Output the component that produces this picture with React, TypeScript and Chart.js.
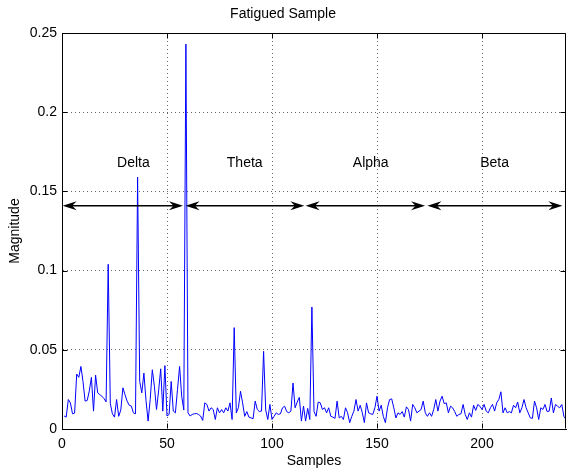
import { useEffect, useRef } from 'react';
import { Chart, registerables } from 'chart.js';

Chart.register(...registerables);

const FONT = "'Liberation Sans', Arial, Helvetica, sans-serif";

const magnitude: number[] = [
  0.0082, 0.0075, 0.0186, 0.0165, 0.0096, 0.0100, 0.0347, 0.0326, 0.0395, 0.0300,
  0.0176, 0.0180, 0.0240, 0.0326, 0.0113, 0.0340, 0.0228, 0.0217, 0.0207, 0.0192,
  0.0171, 0.1040, 0.0160, 0.0096, 0.0075, 0.0186, 0.0080, 0.0120, 0.0260, 0.0217,
  0.0176, 0.0150, 0.0145, 0.0102, 0.0096, 0.1590, 0.0300, 0.0228, 0.0353, 0.0180,
  0.0050, 0.0186, 0.0374, 0.0270, 0.0123, 0.0240, 0.0380, 0.0113, 0.0400, 0.0082,
  0.0092, 0.0300, 0.0113, 0.0102, 0.0250, 0.0395, 0.0207, 0.0120, 0.2430, 0.0102,
  0.0082, 0.0092, 0.0096, 0.0098, 0.0092, 0.0082, 0.0054, 0.0165, 0.0155, 0.0113,
  0.0134, 0.0123, 0.0060, 0.0134, 0.0102, 0.0123, 0.0102, 0.0134, 0.0113, 0.0165,
  0.0060, 0.0640, 0.0102, 0.0134, 0.0238, 0.0165, 0.0080, 0.0110, 0.0075, 0.0070,
  0.0065, 0.0176, 0.0123, 0.0110, 0.0113, 0.0490, 0.0120, 0.0060, 0.0155, 0.0060,
  0.0080, 0.0102, 0.0092, 0.0096, 0.0134, 0.0144, 0.0110, 0.0102, 0.0113, 0.0290,
  0.0134, 0.0170, 0.0200, 0.0050, 0.0144, 0.0050, 0.0130, 0.0060, 0.0770, 0.0110,
  0.0080, 0.0170, 0.0165, 0.0123, 0.0134, 0.0102, 0.0134, 0.0080, 0.0075, 0.0067,
  0.0176, 0.0070, 0.0080, 0.0060, 0.0134, 0.0102, 0.0040, 0.0080, 0.0113, 0.0186,
  0.0113, 0.0150, 0.0102, 0.0040, 0.0165, 0.0102, 0.0096, 0.0092, 0.0134, 0.0207,
  0.0113, 0.0150, 0.0080, 0.0040, 0.0134, 0.0186, 0.0190, 0.0134, 0.0070, 0.0102,
  0.0092, 0.0110, 0.0075, 0.0140, 0.0123, 0.0050, 0.0155, 0.0134, 0.0102, 0.0113,
  0.0123, 0.0176, 0.0102, 0.0080, 0.0102, 0.0080, 0.0123, 0.0186, 0.0113, 0.0176,
  0.0207, 0.0160, 0.0165, 0.0102, 0.0144, 0.0134, 0.0110, 0.0080, 0.0092, 0.0096,
  0.0155, 0.0092, 0.0060, 0.0102, 0.0075, 0.0150, 0.0117, 0.0155, 0.0144, 0.0123,
  0.0155, 0.0113, 0.0102, 0.0134, 0.0155, 0.0113, 0.0165, 0.0186, 0.0235, 0.0102,
  0.0134, 0.0102, 0.0110, 0.0102, 0.0150, 0.0134, 0.0170, 0.0102, 0.0134, 0.0186,
  0.0134, 0.0102, 0.0070, 0.0067, 0.0176, 0.0134, 0.0060, 0.0134, 0.0123, 0.0155,
  0.0110, 0.0113, 0.0196, 0.0102, 0.0155, 0.0144, 0.0134, 0.0155, 0.0080, 0.0060,
];
const sampleIndex: number[] = magnitude.map((_, i) => i + 1);

const yTickLabels = ['0', '0.05', '0.1', '0.15', '0.2', '0.25'];

const bandNames = ['Delta', 'Theta', 'Alpha', 'Beta'];
const bandStart = [0.3, 58.8, 116, 174];
const bandEnd = [57.6, 115.4, 172.9, 238.3];
const bandLabelX = [34, 87, 147, 206];
const arrowLevel = 0.141;
const labelLevel = 0.168;

function arrowHead(ctx: CanvasRenderingContext2D, tipX: number, yy: number, dir: number) {
  const L = 14;
  const W = 4.5;
  const notch = 9.5;
  ctx.beginPath();
  ctx.moveTo(tipX, yy);
  ctx.lineTo(tipX + dir * L, yy - W);
  ctx.lineTo(tipX + dir * notch, yy);
  ctx.lineTo(tipX + dir * L, yy + W);
  ctx.closePath();
  ctx.fill();
}

const framePlugin = {
  id: 'frame',
  afterDatasetsDraw(chart: any) {
    const { ctx, chartArea: a, scales } = chart;
    const x = scales.x;
    const y = scales.y;
    const L = Math.round(a.left) + 0.5;
    const R = Math.round(a.right) - 0.5;
    const T = Math.round(a.top) + 0.5;
    const B = Math.round(a.bottom) - 0.5;
    ctx.save();
    ctx.strokeStyle = '#000';
    ctx.lineWidth = 1;
    ctx.beginPath();
    ctx.moveTo(L, T);
    ctx.lineTo(R, T);
    ctx.lineTo(R, B);
    ctx.stroke();
    const tl = 5;
    ctx.beginPath();
    x.ticks.forEach((t: any) => {
      const px = Math.round(x.getPixelForValue(t.value)) + 0.5;
      ctx.moveTo(px, B);
      ctx.lineTo(px, B - tl);
      ctx.moveTo(px, T);
      ctx.lineTo(px, T + tl);
    });
    y.ticks.forEach((t: any) => {
      const py = Math.round(y.getPixelForValue(t.value)) + 0.5;
      ctx.moveTo(L, py);
      ctx.lineTo(L + tl, py);
      ctx.moveTo(R, py);
      ctx.lineTo(R - tl, py);
    });
    ctx.stroke();
    ctx.restore();
  },
};

const bandPlugin = {
  id: 'bands',
  afterDatasetsDraw(chart: any) {
    const { ctx, scales } = chart;
    const x = scales.x;
    const y = scales.y;
    const yy = y.getPixelForValue(arrowLevel);
    const ly = y.getPixelForValue(labelLevel);
    ctx.save();
    ctx.strokeStyle = '#000';
    ctx.fillStyle = '#000';
    ctx.lineWidth = 1.5;
    bandNames.forEach((name, i) => {
      const x1 = x.getPixelForValue(bandStart[i]);
      const x2 = x.getPixelForValue(bandEnd[i]);
      ctx.beginPath();
      ctx.moveTo(x1 + 8, yy);
      ctx.lineTo(x2 - 8, yy);
      ctx.stroke();
      arrowHead(ctx, x1, yy, 1);
      arrowHead(ctx, x2, yy, -1);
      ctx.font = `14px ${FONT}`;
      ctx.textAlign = 'center';
      ctx.textBaseline = 'middle';
      ctx.fillText(name, x.getPixelForValue(bandLabelX[i]), ly);
    });
    ctx.restore();
  },
};

export default function App() {
  const canvasRef = useRef<HTMLCanvasElement | null>(null);

  useEffect(() => {
    const canvas = canvasRef.current;
    if (!canvas) return;
    const chart = new Chart(canvas, {
      type: 'line',
      data: {
        datasets: [
          {
            label: 'Magnitude',
            data: magnitude.map((v, i) => ({ x: sampleIndex[i], y: v })),
            borderColor: '#0000ff',
            backgroundColor: '#0000ff',
            borderWidth: 1,
            pointRadius: 0,
            tension: 0,
            fill: false,
          },
        ],
      },
      options: {
        animation: false,
        responsive: false,
        maintainAspectRatio: false,
        layout: { padding: { left: 0, right: 1, top: 0, bottom: 0 } },
        plugins: {
          legend: { display: false },
          tooltip: { enabled: false },
          title: {
            display: true,
            text: 'Fatigued Sample',
            color: '#000',
            font: { family: FONT, size: 14, weight: 'normal' },
            padding: { top: 6, bottom: 10.2 },
          },
        },
        scales: {
          x: {
            type: 'linear',
            min: 0,
            max: 240,
            afterFit: (s: any) => {
              s.height = 39;
            },
            grid: {
              color: 'rgba(0,0,0,0.6)',
              lineWidth: 1,
              drawTicks: false,
            },
            border: { display: true, color: '#000', width: 1, dash: [1, 3] },
            ticks: {
              stepSize: 50,
              includeBounds: false,
              color: '#000',
              padding: 7,
              maxRotation: 0,
              font: { family: FONT, size: 14 },
              callback: (v: any) => String(v),
            },
            title: {
              display: true,
              text: 'Samples',
              color: '#000',
              font: { family: FONT, size: 14 },
              padding: { top: 0, bottom: -2 },
            },
          },
          y: {
            type: 'linear',
            min: 0,
            max: 0.25,
            afterFit: (s: any) => {
              s.width = 62;
            },
            grid: {
              color: 'rgba(0,0,0,0.6)',
              lineWidth: 1,
              drawTicks: false,
            },
            border: { display: true, color: '#000', width: 1, dash: [1, 3] },
            ticks: {
              stepSize: 0.05,
              color: '#000',
              padding: 5,
              font: { family: FONT, size: 14 },
              callback: (v: any, i: number) => yTickLabels[i] ?? String(v),
            },
            title: {
              display: true,
              text: 'Magnitude',
              color: '#000',
              font: { family: FONT, size: 14 },
              padding: { top: 6.6, bottom: 0 },
            },
          },
        },
      },
      plugins: [framePlugin, bandPlugin],
    } as any);
    return () => chart.destroy();
  }, []);

  return (
    <div style={{ position: 'fixed', left: 0, top: 0, width: 567, height: 468, background: '#fff' }}>
      <canvas ref={canvasRef} width={567} height={468} style={{ display: 'block' }} />
    </div>
  );
}
